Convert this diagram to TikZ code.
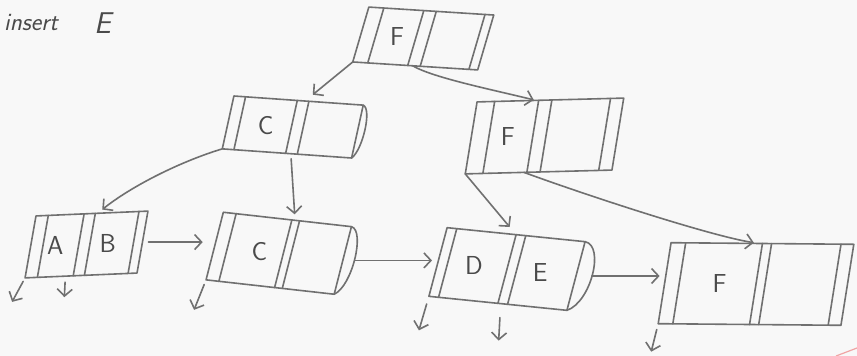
\documentclass[tikz,border=0pt]{standalone}
\usetikzlibrary{calc,arrows.meta}

\definecolor{paper}{HTML}{F8F8F8}
\definecolor{pencil}{HTML}{707070}
\definecolor{lead}{HTML}{4A4A4A}
\definecolor{redpen}{HTML}{F0A4A4}

% vertical rules of a record, at fractions of its width
\newcommand\cellrules[2]{%
  \foreach \frc in {#2}{%
    \draw[pen] ($(#1.north west)!\frc!(#1.north east)$) -- ($(#1.south west)!\frc!(#1.south east)$);}}
% rounded cap on the right end of a record
\newcommand\rcap[3]{%
  \draw[pen] (#1.north east) .. controls +(#2,4) and +(#3,-8) .. (#1.south east);}

\begin{document}
\begin{tikzpicture}[x=1pt,y=-1pt,
  pen/.style={draw=pencil, line width=1.6pt, line cap=round, line join=round},
  cell/.style={pen, shape=rectangle, inner sep=0pt, outer sep=0pt},
  key/.style={font=\sffamily\fontsize{26}{28}\selectfont, text=lead, inner sep=0pt},
  link/.style={pen, -{Straight Barb[length=7pt,width=15pt]}},
]
\fill[paper] (0,0) rectangle (857,356);
\useasboundingbox (0,0) rectangle (857,356);

% heading
\node[font=\sffamily\itshape\fontsize{25}{27}\selectfont, text=lead, anchor=base west, inner sep=0pt] (ins) at (4,30) {insert};
\node[font=\sffamily\itshape\fontsize{30}{32}\selectfont, text=lead, anchor=base west, inner sep=0pt] (insE) at (94,33) {E};

% root
\node[cell, minimum width=127pt, minimum height=55pt, xslant=0.23, rotate=-3.6] (root) at (423.25,38.5) {};
\cellrules{root}{0.12,0.44,0.54,0.93}
\node[key] (kroot) at ($(root.west)!0.29!(root.east)$) {F};

% inner level
\node[cell, minimum width=131pt, minimum height=53pt, xslant=0.15, rotate=-4] (midC) at (292.75,127) {};
\cellrules{midC}{0.09,0.49,0.58}
\rcap{midC}{9}{11}
\node[key] (kmidC) at ($(midC.west)!0.29!(midC.east)$) {C};

\node[cell, minimum width=146pt, minimum height=72pt, xslant=0.19, rotate=1.5] (midF) at (544.5,136) {};
\cellrules{midF}{0.12,0.42,0.51,0.91}
\node[key] (kmidF) at ($(midF.west)!0.25!(midF.east)$) {F};

% leaves
\node[cell, minimum width=111pt, minimum height=62pt, xslant=0.22, rotate=2.5] (leafAB) at (86.5,244.5) {};
\cellrules{leafAB}{0.11,0.43,0.53,0.92}
\node[key] (kA) at ($(leafAB.west)!0.22!(leafAB.east)$) {A};
\node[key] (kB) at ($(leafAB.west)!0.69!(leafAB.east)$) {B};

\node[cell, minimum width=131pt, minimum height=68pt, xslant=0.145, rotate=-6.3] (leafC) at (278.75,253.25) {};
\cellrules{leafC}{0.1,0.535,0.595}
\rcap{leafC}{14}{18}
\node[key] (kC) at ($(leafC.west)!0.35!(leafC.east)$) {C};

\node[cell, minimum width=141pt, minimum height=69pt, xslant=0.165, rotate=-5.7] (leafDE) at (507,269) {};
\cellrules{leafDE}{0.07,0.5,0.57}
\rcap{leafDE}{20}{24}
\node[key] (kD) at ($(leafDE.west)!0.26!(leafDE.east)$) {D};
\node[key] (kE) at ($(leafDE.west)!0.74!(leafDE.east)$) {E};

\node[cell, minimum width=183pt, minimum height=81pt, xslant=0.15, rotate=-0.5] (leafF) at (756,284) {};
\cellrules{leafF}{0.08,0.5,0.55,0.93}
\node[key] (kF) at ($(leafF.west)!0.3!(leafF.east)$) {F};

% ends of the right caps
\coordinate (leafCcap) at ($(leafC.east)+(12,0)$);
\coordinate (leafDEcap) at ($(leafDE.east)+(16,0)$);

% tree pointers
\draw[link, shorten >=10pt] (root.south west) -- ($(midC.north west)!0.55!(midC.north east)$);
\draw[link, shorten >=2pt] ($(root.south west)!0.48!(root.south east)$) .. controls +(20,12) and +(-40,-10) .. ($(midF.north west)!0.4!(midF.north east)$);
\draw[link, shorten >=6pt] (midC.south west) .. controls +(-40,12) and +(35,-28) .. ($(leafAB.north west)!0.55!(leafAB.north east)$);
\draw[link, shorten <=5pt, shorten >=6pt] ($(midC.south west)!0.53!(midC.south east)$) -- ($(leafC.north west)!0.56!(leafC.north east)$);
\draw[link, shorten >=10pt] (midF.south west) -- ($(leafDE.north west)!0.5!(leafDE.north east)$);
\draw[link, shorten >=5pt] ($(midF.south west)!0.4!(midF.south east)$) .. controls +(60,22) and +(-50,-8) .. ($(leafF.north west)!0.48!(leafF.north east)$);

% sibling links
\draw[link, shorten <=6pt, shorten >=12pt] (leafAB.east) -- (leafAB.east -| leafC.west);
\draw[link, shorten >=6pt] (leafCcap) -- (leafCcap -| leafDE.west);
\draw[link, shorten >=5pt] (leafDEcap) -- (leafDEcap -| leafF.west);

% record pointers below the leaves
\coordinate (dA) at ($(leafAB.south west)+(-13,24)$);
\coordinate (dB) at ($(leafAB.south west)!0.36!(leafAB.south east)+(-1,21)$);
\coordinate (dC) at ($(leafC.south west)+(-12,30)$);
\coordinate (dD) at ($(leafDE.south west)+(-10,34)$);
\coordinate (dE) at ($(leafDE.south west)!0.52!(leafDE.south east)+(-2,37)$);
\coordinate (dF) at ($(leafF.south west)+(-7,28)$);
\draw[link, shorten <=4pt] (leafAB.south west) -- (dA);
\draw[link, shorten <=6pt] ($(leafAB.south west)!0.36!(leafAB.south east)$) -- (dB);
\draw[link, shorten <=5pt] (leafC.south west) -- (dC);
\draw[link, shorten <=8pt] (leafDE.south west) -- (dD);
\draw[link, shorten <=14pt] ($(leafDE.south west)!0.52!(leafDE.south east)$) -- (dE);
\draw[link, shorten <=6pt] (leafF.south west) -- (dF);

% stray red pen mark
\draw[redpen, line width=1.2pt] (836,356) -- (857,348);
\end{tikzpicture}
\end{document}
